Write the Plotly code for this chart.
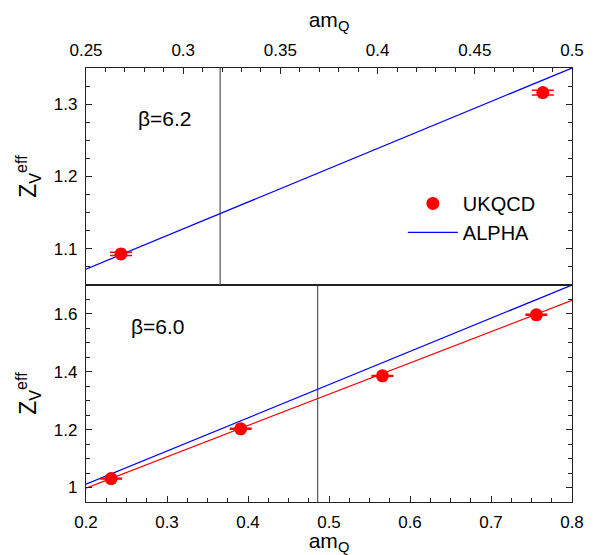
import plotly.graph_objects as go

# ---- data ----
# beta = 6.2 (top panel)
b62_am = [0.268, 0.485]
b62_z = [1.093, 1.316]
b62_err = [0.0023, 0.0032]
b62_alpha_x = [0.25, 0.5]
b62_alpha_y = [1.072, 1.350]
b62_vline = 0.319

# beta = 6.0 (bottom panel)
b60_am = [0.231, 0.391, 0.566, 0.756]
b60_z = [1.031, 1.203, 1.386, 1.597]
b60_err = [0.0015, 0.0015, 0.0015, 0.0015]
b60_fit_x = [0.2, 0.8]
b60_fit_y = [0.998, 1.647]
b60_alpha_x = [0.2, 0.8]
b60_alpha_y = [1.0115, 1.700]
b60_vline = 0.486

FONT = "Liberation Sans, Arial, sans-serif"

fig = go.Figure()

# bottom panel (x, y)
fig.add_trace(go.Scatter(x=[b60_vline, b60_vline], y=[0.95, 1.7], mode="lines",
                         line=dict(color="#555555", width=1.2), showlegend=False,
                         xaxis="x", yaxis="y"))
fig.add_trace(go.Scatter(x=b60_alpha_x, y=b60_alpha_y, mode="lines",
                         line=dict(color="#0000ff", width=1.2), showlegend=False,
                         xaxis="x", yaxis="y"))
fig.add_trace(go.Scatter(x=b60_fit_x, y=b60_fit_y, mode="lines",
                         line=dict(color="#ff0000", width=1.2), showlegend=False,
                         xaxis="x", yaxis="y"))
fig.add_trace(go.Scatter(x=b60_am, y=b60_z, mode="markers",
                         marker=dict(color="#ff0000", size=13),
                         error_y=dict(type="data", array=b60_err, color="#ff0000",
                                      thickness=1.5, width=11),
                         showlegend=False, xaxis="x", yaxis="y"))

# top panel (x2, y2)
fig.add_trace(go.Scatter(x=[b62_vline, b62_vline], y=[1.05, 1.35], mode="lines",
                         line=dict(color="#555555", width=1.2), showlegend=False,
                         xaxis="x2", yaxis="y2"))
fig.add_trace(go.Scatter(x=b62_alpha_x, y=b62_alpha_y, mode="lines",
                         line=dict(color="#0000ff", width=1.2), name="ALPHA",
                         showlegend=True, xaxis="x2", yaxis="y2"))
fig.add_trace(go.Scatter(x=b62_am, y=b62_z, mode="markers",
                         marker=dict(color="#ff0000", size=13),
                         error_y=dict(type="data", array=b62_err, color="#ff0000",
                                      thickness=1.5, width=11),
                         name="UKQCD", showlegend=True, xaxis="x2", yaxis="y2"))

axcommon = dict(showgrid=False, zeroline=False, showline=True, linecolor="#222222",
                linewidth=1.3, ticks="inside", ticklen=6, tickwidth=1,
                tickcolor="#222222", automargin=False,
                tickfont=dict(family=FONT, size=17, color="black"))

fig.update_layout(
    width=590, height=547,
    margin=dict(l=78, r=26, t=60, b=53),
    paper_bgcolor="white", plot_bgcolor="white",
    font=dict(family=FONT, color="black"),
    xaxis=dict(**axcommon, domain=[0, 1], anchor="y", range=[0.2, 0.8],
               dtick=0.1, tick0=0.2, tickformat=".1f", mirror=True,
               ticklabelstandoff=4,
               minor=dict(dtick=0.025, ticks="inside", ticklen=4, tickcolor="#222222"),
               title=dict(text="am<sub>Q</sub>", font=dict(size=21), standoff=2)),
    yaxis=dict(**axcommon, domain=[0, 0.5], anchor="x", range=[0.95, 1.7],
               tickvals=[1.0, 1.2, 1.4, 1.6], ticktext=["1", "1.2", "1.4", "1.6"],
               mirror="ticks", ticklabelstandoff=4,
               minor=dict(dtick=0.05, tick0=0.95, ticks="inside", ticklen=4,
                          tickcolor="#222222"),
               title=dict(text="Z<sub>V</sub><sup>eff</sup>", font=dict(size=23),
                          standoff=10)),
    xaxis2=dict(**axcommon, domain=[0, 1], anchor="y2", side="top", range=[0.25, 0.5],
                tickvals=[0.25, 0.3, 0.35, 0.4, 0.45, 0.5],
                ticktext=["0.25", "0.3", "0.35", "0.4", "0.45", "0.5"], mirror=True,
                ticklabelstandoff=4,
                minor=dict(dtick=0.01, tick0=0.25, ticks="inside", ticklen=4,
                           tickcolor="#222222"),
                title=dict(text="am<sub>Q</sub>", font=dict(size=21), standoff=18)),
    yaxis2=dict(**axcommon, domain=[0.5, 1], anchor="x2", range=[1.05, 1.35],
                tickvals=[1.1, 1.2, 1.3], ticktext=["1.1", "1.2", "1.3"],
                mirror="ticks", ticklabelstandoff=4,
                minor=dict(dtick=0.025, tick0=1.05, ticks="inside", ticklen=4,
                           tickcolor="#222222"),
                title=dict(text="Z<sub>V</sub><sup>eff</sup>", font=dict(size=23),
                           standoff=10)),
    legend=dict(x=0.652, y=0.733, xanchor="left", yanchor="top",
                bgcolor="rgba(0,0,0,0)", font=dict(family=FONT, size=20),
                traceorder="reversed", itemwidth=50, tracegroupgap=0),
    annotations=[
        dict(text="β=6.2", xref="x2", yref="y2", x=0.2755, y=1.28, showarrow=False,
             xanchor="left", font=dict(family=FONT, size=21)),
        dict(text="β=6.0", xref="x", yref="y", x=0.253, y=1.555, showarrow=False,
             xanchor="left", font=dict(family=FONT, size=21)),
    ],
)

fig.write_html("out.html")
